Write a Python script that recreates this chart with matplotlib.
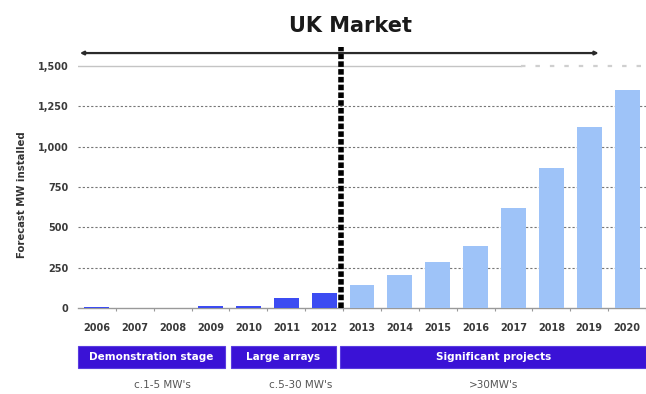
import matplotlib
matplotlib.use("Agg")
import matplotlib.pyplot as plt
import matplotlib.transforms as mtransforms
from matplotlib.patches import Rectangle

# forecast installed capacity (MW) by year
years = ["2006", "2007", "2008", "2009", "2010", "2011", "2012",
         "2013", "2014", "2015", "2016", "2017", "2018", "2019", "2020"]
mw_installed = [5, 0, 0, 15, 15, 62, 90,
                140, 205, 288, 385, 620, 870, 1120, 1350]
n_actual = 7  # 2006-2012 drawn dark, the rest light

yticks = [0, 250, 500, 750, 1000, 1250, 1500]
ytick_labels = ["0", "250", "500", "750", "1,000", "1,250", "1,500"]

# market stages shown under the axis
stages = ["Demonstration stage", "Large arrays", "Significant projects"]
stage_spans = [(-0.5, 3.39), (3.53, 6.31), (6.43, 14.5)]
stage_notes = ["c.1-5 MW's", "c.5-30 MW's", ">30MW's"]
note_x = [1.74, 5.38, 10.48]

dark_blue = "#3c4cf2"
light_blue = "#9ec3f8"
purple = "#3a12d6"

fig = plt.figure(figsize=(6.46, 3.94), dpi=100)
ax = fig.add_axes([78 / 646, 86 / 394, 568 / 646, 261.4 / 394])

x = list(range(len(years)))
colors = [dark_blue if i < n_actual else light_blue for i in x]
ax.bar(x, mw_installed, width=0.66, color=colors, zorder=3)

ax.set_xlim(-0.5, 14.37)
ax.set_ylim(0, 1620)

# grid lines
for v in yticks[1:-1]:
    ax.axhline(v, color="#777777", lw=0.8, ls=(0, (2, 1.8)), zorder=1)
ax.axhline(1500, xmax=0.78, color="#c4c4c4", lw=1.0, zorder=1)
ax.axhline(1500, xmin=0.78, color="#cfcfcf", lw=1.6, ls=(0, (2, 4.5)), zorder=1)

ax.set_yticks(yticks)
ax.set_yticklabels(ytick_labels)
ax.set_xticks(x)
ax.set_xticklabels(years)
ax.set_xticks([i - 0.5 for i in range(1, len(years) + 1)], minor=True)
ax.tick_params(axis="both", which="major", length=0, labelsize=7, labelcolor="#3a3a3a")
ax.tick_params(axis="x", which="major", pad=11)
ax.tick_params(axis="y", which="major", pad=7)
ax.tick_params(axis="x", which="minor", length=2.5, color="#999999", width=0.8)
for lab in ax.get_xticklabels() + ax.get_yticklabels():
    lab.set_fontweight("bold")

for side in ["top", "right", "left"]:
    ax.spines[side].set_visible(False)
ax.spines["bottom"].set_color("#999999")
ax.spines["bottom"].set_linewidth(1.0)

# divider between historic and forecast periods
ax.axvline(6.45, color="black", lw=4.0, ls=(0, (1.0, 0.4)), zorder=5)

# forecast horizon arrow
ax.annotate("", xy=(13.25, 1580), xytext=(-0.45, 1580),
            arrowprops=dict(arrowstyle="<|-|>", color="#2a2a2a", lw=1.6,
                            mutation_scale=5, shrinkA=0, shrinkB=0),
            annotation_clip=False, zorder=6)

fig.text(0.543, 0.934, "UK Market", ha="center", va="center",
         fontsize=15, fontweight="bold", color="#1a1a1a")
fig.text(0.034, 0.505, "Forecast MW installed", rotation=90, ha="center",
         va="center", fontsize=7.3, fontweight="bold", color="#333333")

# stage boxes under the axis
trans = mtransforms.blended_transform_factory(ax.transData, fig.transFigure)
box_bottom, box_top = 26 / 394, 48 / 394
for label, (x0, x1) in zip(stages, stage_spans):
    ax.add_patch(Rectangle((x0, box_bottom), x1 - x0, box_top - box_bottom,
                           transform=trans, facecolor=purple, edgecolor="#5a3be0",
                           lw=0.8, clip_on=False))
    ax.text((x0 + x1) / 2 if x1 < 14 else 10.48, (box_bottom + box_top) / 2, label,
            transform=trans, ha="center", va="center", color="white",
            fontsize=7.5, fontweight="bold", clip_on=False)

for note, xn in zip(stage_notes, note_x):
    ax.text(xn, 9 / 394, note, transform=trans, ha="center", va="center",
            color="#555555", fontsize=7.5, clip_on=False)

fig.savefig("out.png", dpi=100)
